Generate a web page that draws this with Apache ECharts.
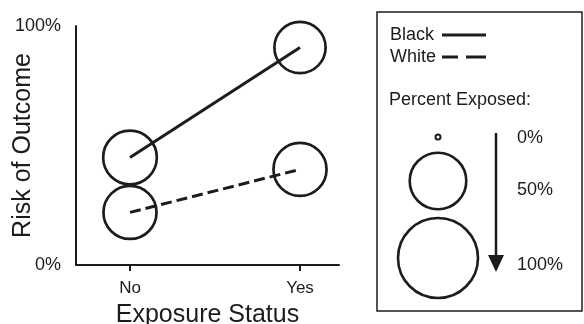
<!DOCTYPE html>
<html>
<head>
<meta charset="utf-8">
<script src="https://cdn.jsdelivr.net/npm/echarts@6/dist/echarts.min.js"></script>
<style>
  html, body { margin: 0; padding: 0; background: #fff; }
  #chart { width: 584px; height: 324px; }
</style>
</head>
<body>
<div id="chart"></div>
<script>
// exposure status categories on the x axis (0 = No, 1 = Yes)
const exposure = ['No', 'Yes']
const yTicks = [0, 100]

// risk of outcome (%) per group
const blackRisk = [45, 91]
const whiteRisk = [22, 40]

// percent exposed per point -> circle size
const blackExposed = [45, 41]
const whiteExposed = [44, 44]

// legend key for circle size
const keyPercents = [0, 50, 100]
const keyLabels = ['0%', '50%', '100%']

const INK = '#1c1c1c'
const FONT = 'Liberation Sans, Arial, sans-serif'

// area-proportional circle, with a small floor so 0% is still visible
function circleSize(pct) {
  return Math.max(5, 80 * Math.sqrt(pct / 100))
}

function toPoints(risk, exposed) {
  return risk.map((r, i) => [i, r, exposed ? exposed[i] : 0])
}

const chart = echarts.init(document.getElementById('chart'), null, { renderer: 'canvas' })

// legend key: circles + labels inside the box
const keyY = [137, 181, 258]
const keyTextY = [138, 190, 265]
const keyGraphics = []
keyPercents.forEach((p, i) => {
  keyGraphics.push({
    type: 'circle',
    shape: { cx: 438, cy: keyY[i], r: circleSize(p) / 2 },
    style: { fill: 'none', stroke: INK, lineWidth: i === 0 ? 2 : 2.6 }
  })
  keyGraphics.push({
    type: 'text',
    x: 517, y: keyTextY[i],
    style: { text: keyLabels[i], font: '18px ' + FONT, fill: INK, verticalAlign: 'middle' }
  })
})

const option = {
  animation: false,
  grid: { left: 76, right: 245, top: 26, bottom: 59, outerBoundsMode: 'none' },
  xAxis: {
    type: 'value',
    min: -0.3176,
    max: 1.2294,
    splitLine: { show: false },
    axisLine: { show: true, onZero: false, lineStyle: { color: INK, width: 2 } },
    axisTick: { show: true, customValues: [0, 1], length: 6, lineStyle: { color: INK, width: 2 } },
    axisLabel: {
      customValues: [0, 1],
      formatter: v => exposure[Math.round(v)],
      fontFamily: FONT, fontSize: 17, color: INK, margin: 15
    },
    name: 'Exposure Status',
    nameLocation: 'middle',
    nameGap: 38,
    nameMoveOverlap: false,
    nameTextStyle: { fontFamily: FONT, fontSize: 25, color: INK }
  },
  yAxis: {
    type: 'value',
    min: yTicks[0],
    max: yTicks[1],
    interval: 100,
    splitLine: { show: false },
    axisLine: { show: true, onZero: false, lineStyle: { color: INK, width: 2 } },
    axisTick: { show: false },
    axisLabel: { formatter: '{value}%', fontFamily: FONT, fontSize: 18, color: INK, margin: 15 },
    name: 'Risk of Outcome',
    nameLocation: 'middle',
    nameGap: 40,
    nameMoveOverlap: false,
    nameTextStyle: { fontFamily: FONT, fontSize: 25, color: INK }
  },
  graphic: [
    {
      type: 'rect',
      shape: { x: 377, y: 12, width: 205, height: 299 },
      style: { fill: 'none', stroke: INK, lineWidth: 1.5 }
    },
    // series key
    { type: 'text', x: 390, y: 35, style: { text: 'Black', font: '18px ' + FONT, fill: INK, verticalAlign: 'middle' } },
    { type: 'line', shape: { x1: 442, y1: 35, x2: 486, y2: 35 }, style: { stroke: INK, lineWidth: 3 } },
    { type: 'text', x: 390, y: 57, style: { text: 'White', font: '18px ' + FONT, fill: INK, verticalAlign: 'middle' } },
    { type: 'line', shape: { x1: 442, y1: 57, x2: 486, y2: 57 }, style: { stroke: INK, lineWidth: 3, lineDash: [16, 8, 20, 8] } },
    {
      type: 'text',
      x: 389, y: 100,
      style: { text: 'Percent Exposed:', font: '18px ' + FONT, fill: INK, verticalAlign: 'middle' }
    },
    {
      type: 'line',
      shape: { x1: 496, y1: 133, x2: 496, y2: 256 },
      style: { stroke: INK, lineWidth: 2.5 }
    },
    {
      type: 'polygon',
      shape: { points: [[488, 255], [504, 255], [496, 272]] },
      style: { fill: INK }
    },
    ...keyGraphics
  ],
  series: [
    {
      name: 'Black',
      type: 'line',
      data: toPoints(blackRisk),
      symbol: 'none',
      lineStyle: { color: INK, width: 3, type: 'solid' },
      z: 2
    },
    {
      name: 'White',
      type: 'line',
      data: toPoints(whiteRisk),
      symbol: 'none',
      lineStyle: { color: INK, width: 3, type: [11, 5] },
      z: 2
    },
    {
      name: 'exposed',
      type: 'scatter',
      data: toPoints(blackRisk, blackExposed).concat(toPoints(whiteRisk, whiteExposed)),
      symbol: 'circle',
      symbolSize: d => circleSize(d[2]),
      itemStyle: { color: 'rgba(0,0,0,0)', borderColor: INK, borderWidth: 2.7, opacity: 1 },
      z: 3
    }
  ]
}

chart.setOption(option)
</script>
</body>
</html>
